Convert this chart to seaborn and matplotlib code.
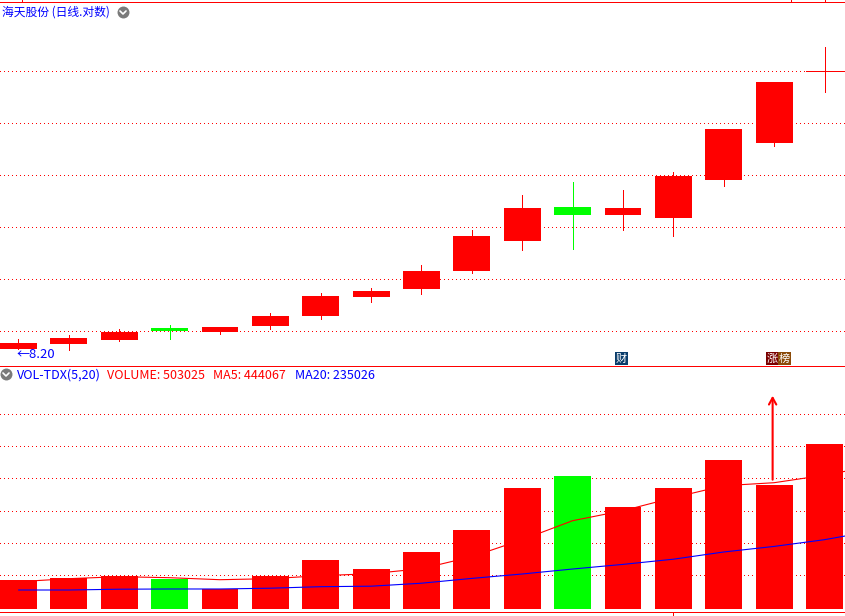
import numpy as np
import pandas as pd
import matplotlib
matplotlib.use('Agg')
import matplotlib.pyplot as plt
from matplotlib.lines import Line2D
from matplotlib.patches import Rectangle
import seaborn as sns

# Price data
days = list(range(17))
opens = [8.20, 8.28, 8.35, 8.55, 8.48, 8.59, 8.76, 9.10, 9.25, 9.58, 10.18, 10.89, 10.72, 10.66, 11.50, 12.38, 14.30]
closes = [8.30, 8.38, 8.48, 8.50, 8.57, 8.76, 9.12, 9.21, 9.58, 10.28, 10.87, 10.72, 10.87, 11.59, 12.73, 13.99, 14.30]
highs = [8.37, 8.43, 8.53, 8.60, 8.57, 8.81, 9.17, 9.26, 9.70, 10.40, 11.16, 11.45, 11.27, 11.68, 12.73, 13.99, 15.00]
lows = [8.20, 8.18, 8.33, 8.37, 8.45, 8.53, 8.71, 9.01, 9.15, 9.55, 10.00, 10.02, 10.40, 10.28, 11.36, 12.31, 13.71]
price_grid = [8.50, 9.43, 10.47, 11.61, 12.89, 14.30]

# Volume panel
volumes = [88400, 94500, 100600, 91500, 61000, 100600, 149400, 121900, 173800, 240800,
           368900, 405500, 311000, 368900, 454200, 378000, 503025]
ma_days = list(range(18))
ma5 = [82300, 91500, 97600, 94500, 88400, 91500, 100600, 106700, 121900, 158500,
       210400, 268300, 298800, 338400, 375000, 384100, 407000, 436000]
ma20 = [57000, 57000, 59400, 60100, 60100, 62500, 67100, 68600, 77700, 92400,
        105800, 121000, 135100, 150900, 172900, 189900, 210400, 237800]
volume_grid = [103650, 201200, 298800, 399400, 496900, 594500]

RED = '#ff0000'
GREEN = '#00ff00'
BLUE = '#0000ff'
GREY = '#7a7a7a'
W, H = 845, 616
BODY = 0.734
PX = 72 / 100  # one pixel in points

sns.set_style('white')
plt.rcParams['font.family'] = ['Noto Sans CJK SC', 'DejaVu Sans']

fig = plt.figure(figsize=((W + 0.01) / 100, (H + 0.01) / 100), dpi=100)
ax_price = fig.add_axes([0, 1 - 366.2 / H, 1, (366.2 - 2.2) / H])
ax_vol = fig.add_axes([0, 1 - 612.2 / H, 1, (612.2 - 366.2) / H])

df = pd.DataFrame({'day': days, 'open': opens, 'close': closes, 'high': highs,
                   'low': lows, 'volume': volumes})
df['up'] = df['close'] >= df['open']
df['colour'] = np.where(df['up'], 'up', 'down')
palette = {'up': RED, 'down': GREEN}

# Candles
ax_price.set_yscale('log')
ax_price.vlines(df['day'], df['low'], df['high'], colors=df['colour'].map(palette),
                linewidth=PX, antialiased=False, zorder=3)
bodies = df[df['open'] != df['close']]
ax_price.bar(bodies['day'], (bodies['close'] - bodies['open']).abs(),
             bottom=bodies[['open', 'close']].min(axis=1), width=BODY,
             color=bodies['colour'].map(palette), linewidth=0, zorder=3)
doji = df[df['open'] == df['close']]
ax_price.hlines(doji['close'], doji['day'] - BODY / 2, doji['day'] + BODY / 2,
                colors=RED, linewidth=PX, antialiased=False, zorder=3)
ax_price.set_ylim(7.92, 16.42)
ax_price.set_yticks(price_grid)
ax_price.yaxis.set_minor_locator(matplotlib.ticker.NullLocator())

# Volume bars and moving averages
sns.barplot(data=df, x='day', y='volume', hue='colour', palette=palette, native_scale=True,
            dodge=False, width=BODY, saturation=1, legend=False, linewidth=0, ax=ax_vol)
sns.lineplot(x=ma_days, y=ma5, color=RED, linewidth=0.8, errorbar=None, ax=ax_vol, zorder=4)
sns.lineplot(x=ma_days, y=ma20, color=BLUE, linewidth=0.8, errorbar=None, ax=ax_vol, zorder=5)
ax_vol.set_ylim(-10670, 739285)
ax_vol.set_yticks(volume_grid)
ax_vol.annotate('', xy=(14.97, 649300), xytext=(14.97, 393300),
                arrowprops=dict(arrowstyle='->,head_width=0.22,head_length=0.4', color=RED,
                                lw=1.5, shrinkA=0, shrinkB=0, mutation_scale=12), zorder=6)

# Shared axes styling
for ax in (ax_price, ax_vol):
    ax.set_xlim(-0.367, 16.407)
    ax.set_xlabel('')
    ax.set_ylabel('')
    ax.set_facecolor('white')
    ax.set_axisbelow(True)
    ax.grid(axis='y', color=RED, linewidth=PX, linestyle=(0, (1, 3)), antialiased=False)
    ax.grid(axis='x', visible=False)
    ax.tick_params(axis='y', which='both', left=False, labelleft=False)
    for side in ('left', 'right'):
        ax.spines[side].set_visible(False)
    for side in ('top', 'bottom'):
        ax.spines[side].set_color(RED)
        ax.spines[side].set_linewidth(PX)
ax_price.set_xticks([0.07, 15.34, 16.0])
ax_price.tick_params(axis='x', which='both', bottom=False, top=True, labelbottom=False,
                     direction='out', length=2, width=PX, color=RED)
ax_vol.set_xticks([13])
ax_vol.tick_params(axis='x', which='both', bottom=True, labelbottom=False,
                   direction='out', length=4, width=PX, color=RED)


def fx(x):
    return x / W


def fy(y):
    return 1 - y / H


def label(x, y, text, color, size=9):
    fig.text(fx(x), fy(y), text, color=color, fontsize=size, ha='left', va='center')


def fold_icon(x, y):
    fig.add_artist(Line2D([fx(x)], [fy(y)], marker='o', markersize=8.6, color=GREY,
                          markeredgewidth=0, transform=fig.transFigure))
    fig.add_artist(Line2D([fx(x - 3), fx(x), fx(x + 3)], [fy(y - 1), fy(y + 2), fy(y - 1)],
                          color='white', linewidth=1.2, transform=fig.transFigure))


def badge(x0, x1, text, color):
    fig.add_artist(Rectangle((fx(x0), fy(365)), fx(x1 - x0), 13 / H, facecolor=color,
                             linewidth=0, transform=fig.transFigure))
    fig.text(fx((x0 + x1) / 2), fy(358.5), text, color='white', fontsize=8, ha='center', va='center')


label(2, 12, '海天股份 (日线.对数)', BLUE, 8.5)
fold_icon(123, 12)
fold_icon(6, 374)
label(17, 375, 'VOL-TDX(5,20)', BLUE)
label(107, 375, 'VOLUME: 503025', RED)
label(213, 375, 'MA5: 444067', RED)
label(295, 375, 'MA20: 235026', BLUE)
label(17, 354, '←8.20', BLUE, 9.4)
badge(615, 628, '财', '#0a3d6b')
badge(766, 778, '涨', '#7a0000')
badge(778, 791, '榜', '#8a4a08')

fig.savefig('out.png', dpi=100, facecolor='white')
